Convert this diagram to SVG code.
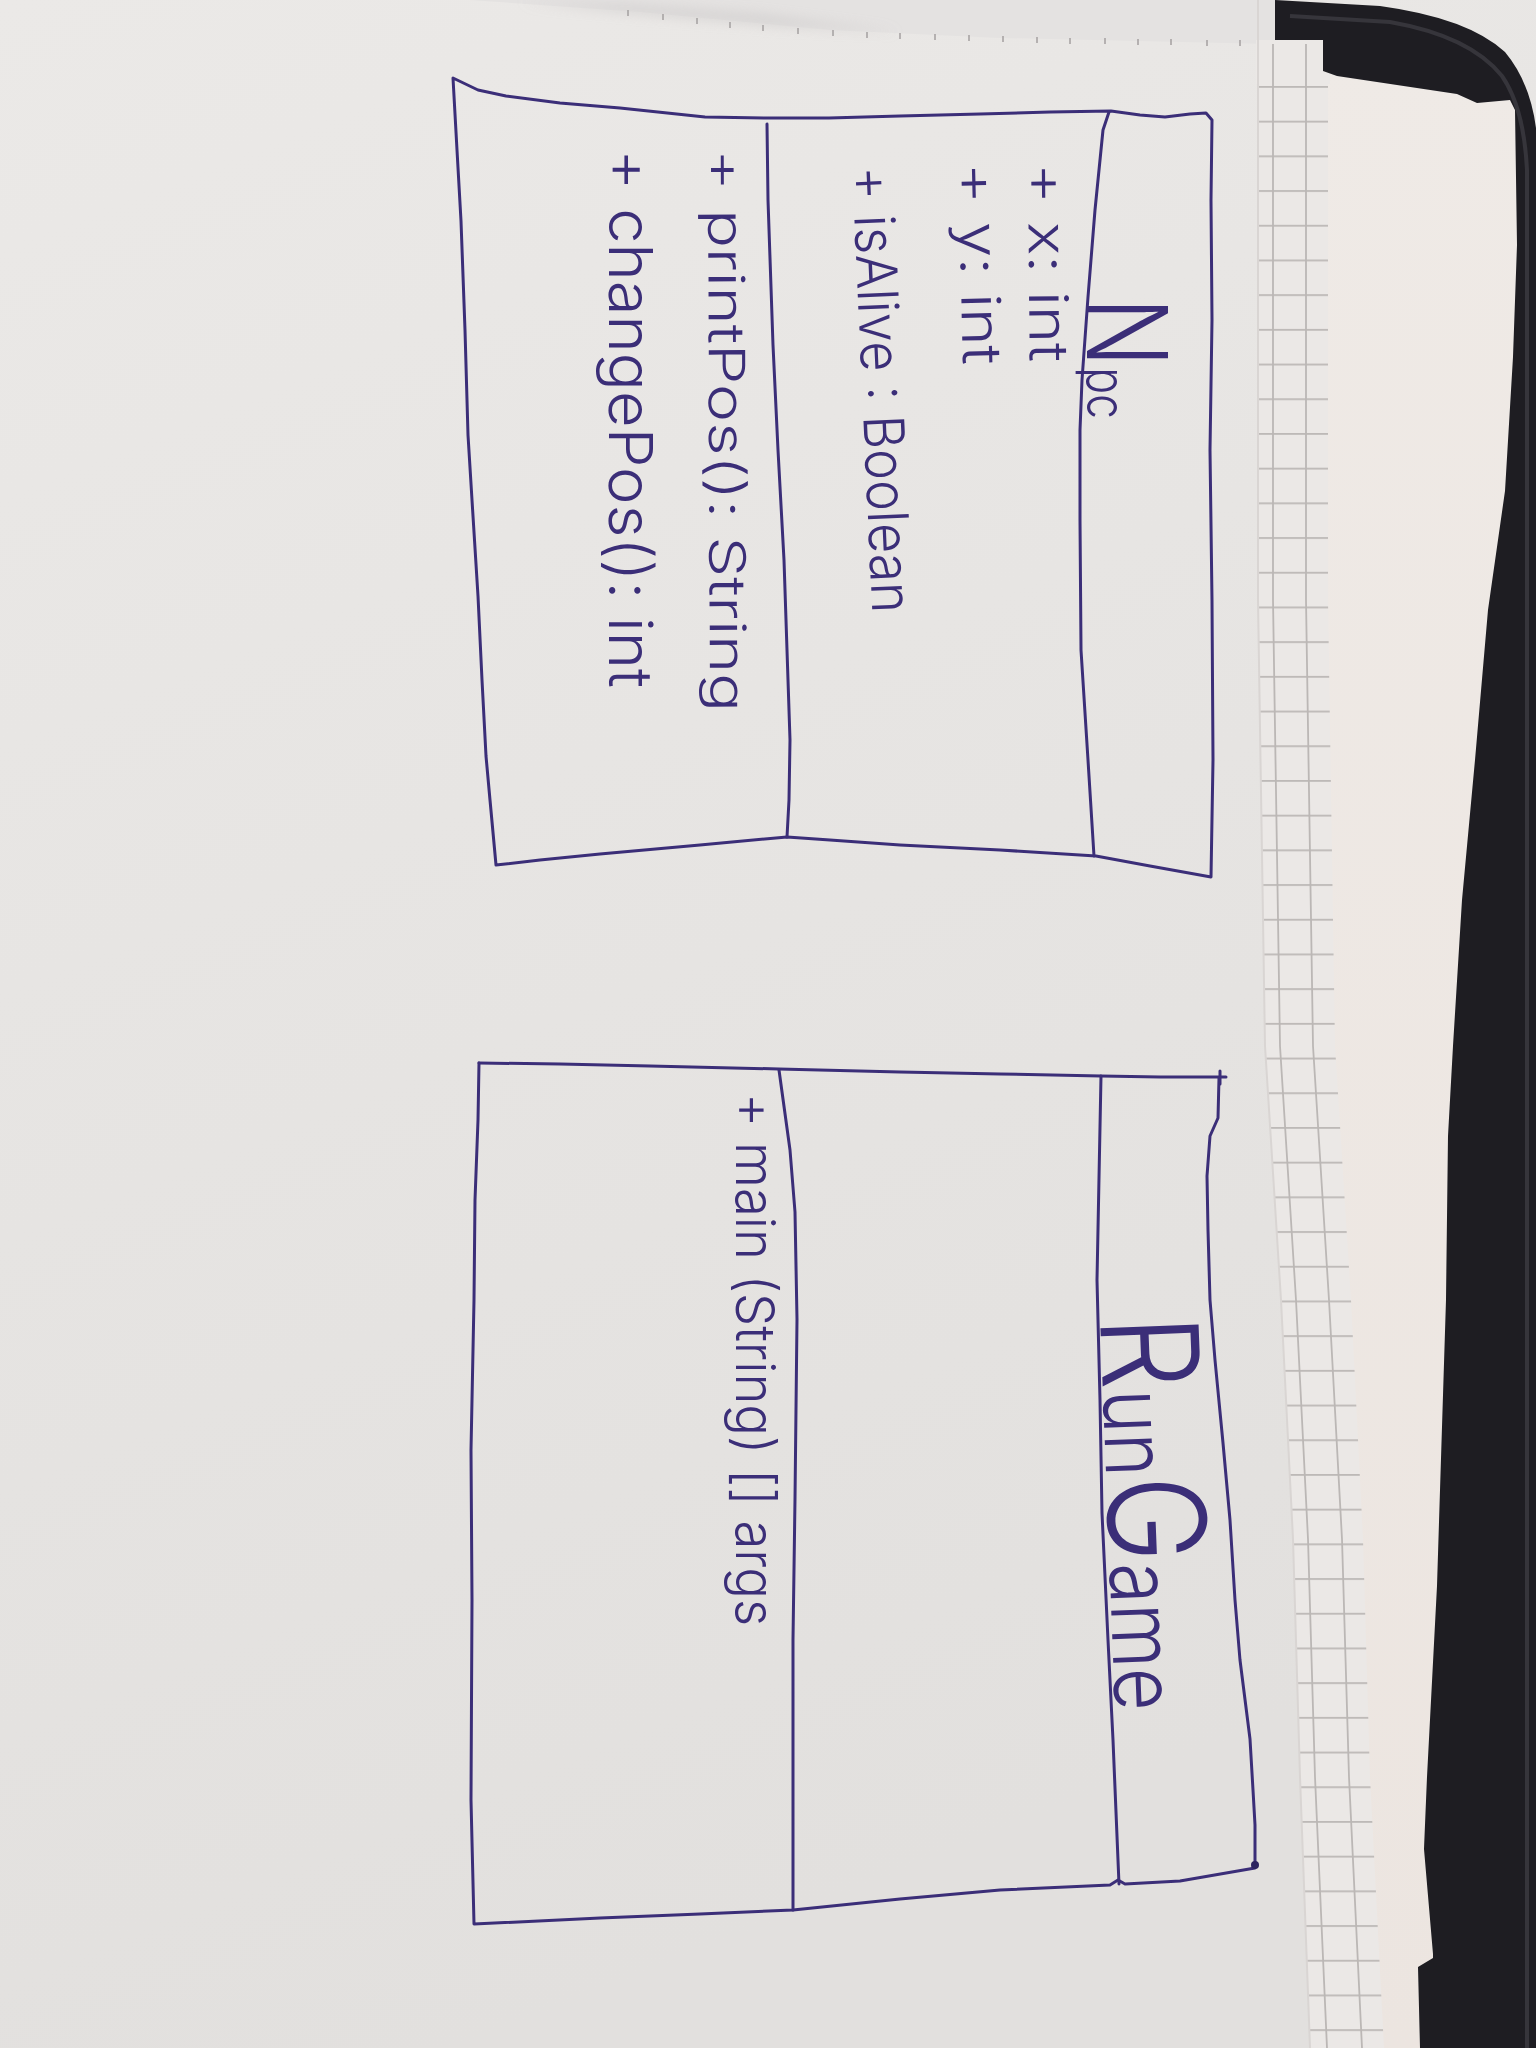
<svg xmlns="http://www.w3.org/2000/svg" width="1536" height="2048" viewBox="0 0 1536 2048">
  <defs>
    <style>
      .ink { fill: none; stroke: #3b2e78; stroke-width: 3; stroke-linejoin: round; stroke-linecap: round; }
      .hand { font-family: Inter, "Open Sans", Lato, "Liberation Sans", sans-serif; font-weight: 300; fill: #3b2e78; }
      .perf { stroke: #a8a4a4; stroke-width: 1.6; }
      .gridline { fill: none; stroke: #bbb7b5; stroke-width: 1.8; }
    </style>
    <linearGradient id="sheet" x1="0" y1="0" x2="0.3" y2="1">
      <stop offset="0" stop-color="#ebe9e7"/>
      <stop offset="1" stop-color="#e2e0de"/>
    </linearGradient>
    <linearGradient id="warmSheet" x1="0" y1="0" x2="0" y2="1">
      <stop offset="0" stop-color="#efeae6"/>
      <stop offset="1" stop-color="#ece5e0"/>
    </linearGradient>
    <pattern id="gridRows" patternUnits="userSpaceOnUse" x="0" y="86" width="40" height="34.7">
      <rect width="40" height="34.7" fill="#ebe8e6"/>
      <rect y="0" width="40" height="1.8" fill="#bdb9b7"/>
    </pattern>
    <filter id="soft" x="-10%" y="-50%" width="120%" height="200%">
      <feGaussianBlur stdDeviation="6"/>
    </filter>
  </defs>

  <!-- paper background -->
  <g id="paper">
    <rect width="1536" height="2048" fill="url(#sheet)"/>
    <!-- fold shadow of the sheet above the perforation -->
    <path d="M470,0 L640,12 L830,30 L1000,38 L1275,44 L1275,0 Z" fill="#e4e2e1"/>
    <path d="M520,2 L640,14 L780,26 L900,32 L760,14 L620,4 Z" fill="#cfcccc" opacity="0.7" filter="url(#soft)"/>
    <!-- perforation ticks -->
    <g class="perf">
      <line x1="628" y1="10" x2="628" y2="16"/>
      <line x1="663" y1="14" x2="663" y2="20"/>
      <line x1="697" y1="18" x2="697" y2="24"/>
      <line x1="730" y1="22" x2="730" y2="28"/>
      <line x1="763" y1="25" x2="763" y2="31"/>
      <line x1="798" y1="28" x2="798" y2="34"/>
      <line x1="833" y1="30" x2="833" y2="36"/>
      <line x1="867" y1="32" x2="867" y2="38"/>
      <line x1="900" y1="33" x2="900" y2="39"/>
      <line x1="935" y1="34" x2="935" y2="40"/>
      <line x1="969" y1="35" x2="969" y2="41"/>
      <line x1="1003" y1="36" x2="1003" y2="42"/>
      <line x1="1037" y1="37" x2="1037" y2="43"/>
      <line x1="1070" y1="38" x2="1070" y2="44"/>
      <line x1="1105" y1="38" x2="1105" y2="44"/>
      <line x1="1138" y1="39" x2="1138" y2="45"/>
      <line x1="1171" y1="39" x2="1171" y2="45"/>
      <line x1="1207" y1="40" x2="1207" y2="46"/>
      <line x1="1240" y1="40" x2="1240" y2="46"/>
    </g>

    <!-- plain sheet under the drawing sheet, up to the folder -->
    <path d="M1275,40 L1323,40 L1323,71 L1337,76 L1457,94 L1477,103 L1510,100 L1515,110 L1517,245 L1513,357 L1505,491 L1488,610 L1475,760 L1462,900 L1453,1046 L1448,1136 L1446,1300 L1437,1586 L1427,1777 L1424,1849 L1433,1954 L1433,1958 L1418,1967 L1420,2048 L1310,2048 L1300,1777 L1293,1539 L1281,1300 L1265,1046 L1258,600 L1258,40 Z" fill="url(#warmSheet)"/>
    <!-- squared strip -->
    <path d="M1258,44 L1258,600 L1265,1046 L1281,1300 L1293,1539 L1300,1777 L1310,2048 L1384,2048 L1370,1777 L1363,1539 L1351,1300 L1335,1046 L1328,600 L1328,44 Z" fill="url(#gridRows)"/>
    <rect x="1256" y="40" width="74" height="44" fill="#ebe8e6"/>
    <path class="gridline" d="M1273,44 L1273,600 L1280,1046 L1296,1300 L1308,1539 L1315,1777 L1327,2048"/>
    <path class="gridline" d="M1306,44 L1306,600 L1313,1046 L1329,1300 L1342,1539 L1349,1777 L1362,2048"/>
    <!-- edge of the drawing sheet -->
    <path d="M1258,0 L1258,600 L1265,1046 L1281,1300 L1293,1539 L1300,1777 L1310,2048" fill="none" stroke="#d9d5d3" stroke-width="2"/>

    <!-- black folder -->
    <path d="M1275,0 L1380,6 Q1468,18 1505,52 Q1530,82 1536,128 L1536,2048 L1420,2048 L1418,1967 L1433,1958 L1433,1954 L1424,1849 L1427,1777 L1437,1586 L1446,1300 L1448,1136 L1453,1046 L1462,900 L1475,760 L1488,610 L1505,491 L1513,357 L1517,245 L1515,110 L1510,100 L1477,103 L1457,94 L1337,76 L1323,71 L1323,40 L1275,40 Z" fill="#1e1d22"/>
    <path d="M1290,16 L1390,22 Q1470,36 1502,76 Q1524,108 1527,170 L1527,2048" fill="none" stroke="#36353b" stroke-width="4"/>
  </g>

  <!-- class Npc -->
  <g id="node-npc">
    <path class="ink" d="M453,78 L478,90 L506,96 L560,103 L620,108 L705,117 L770,118 L829,118 L900,116 L980,114 L1050,112 L1111,111 L1140,115 L1165,117 L1190,114 L1206,113 L1212,120 L1211,200 L1212,320 L1210,450 L1212,600 L1213,760 L1211,877 L1150,866 L1096,856 L1000,850 L900,845 L830,840 L787,837 L700,845 L600,854 L540,860 L496,865 L490,800 L486,756 L482,680 L478,596 L472,500 L468,435 L465,330 L461,221 L457,150 Z"/>
    <path class="ink" d="M1109,112 L1103,130 L1095,210 L1088,297 L1082,380 L1080,430 L1080,520 L1081,650 L1088,760 L1094,856"/>
    <path class="ink" d="M767,124 L768,200 L773,345 L778,450 L784,560 L788,680 L790,740 L789,800 L787,837"/>
    <text class="hand" transform="translate(1087,297) rotate(90)" textLength="122" lengthAdjust="spacingAndGlyphs"><tspan font-size="112">N</tspan><tspan font-size="54">pc</tspan></text>
    <text class="hand" font-size="54" transform="translate(1028,163) rotate(89.5)" textLength="199" lengthAdjust="spacingAndGlyphs">+ x: int</text>
    <text class="hand" font-size="54" transform="translate(958,163) rotate(88.6)" textLength="202" lengthAdjust="spacingAndGlyphs">+ y: int</text>
    <text class="hand" font-size="56" transform="translate(852,167) rotate(87.4)" textLength="447" lengthAdjust="spacingAndGlyphs">+ isAlive : Boolean</text>
    <text class="hand" font-size="50" transform="translate(708,149) rotate(89.8)" textLength="563" lengthAdjust="spacingAndGlyphs">+ printPos(): String</text>
    <text class="hand" font-size="60" transform="translate(609,149) rotate(90)" textLength="539" lengthAdjust="spacingAndGlyphs">+ changePos(): int</text>
  </g>

  <!-- class RunGame -->
  <g id="node-rungame">
    <path class="ink" d="M479,1063 L560,1064 L650,1066 L779,1069 L900,1072 L1000,1074 L1101,1076 L1160,1077 L1226,1077"/>
    <path class="ink" d="M1220,1071 L1220,1084"/>
    <path class="ink" d="M1219,1078 L1218,1118 L1210,1136 L1207,1176 L1208,1230 L1210,1300 L1215,1360 L1223,1443 L1230,1520 L1235,1600 L1240,1660 L1250,1739 L1253,1790 L1255,1825 L1255,1868 L1180,1881 L1125,1884 L1118,1880 L1110,1885 L1000,1890 L900,1899 L793,1910 L700,1914 L600,1918 L474,1924 L471,1800 L472,1600 L471,1450 L474,1300 L475,1200 L478,1120 L479,1063"/>
    <circle cx="1255" cy="1865" r="4" fill="#2c2360"/>
    <path class="ink" d="M1101,1076 L1097,1280 L1100,1400 L1102,1513 L1108,1640 L1113,1740 L1119,1884"/>
    <path class="ink" d="M779,1070 L790,1150 L795,1212 L797,1319 L795,1499 L793,1640 L793,1910"/>
    <text class="hand" transform="translate(1100,1317) rotate(87.8)" textLength="395" lengthAdjust="spacingAndGlyphs"><tspan font-size="135">R</tspan><tspan font-size="86">un</tspan><tspan font-size="135">G</tspan><tspan font-size="86">ame</tspan></text>
    <text class="hand" font-size="54" transform="translate(736,1093) rotate(90)" textLength="533" lengthAdjust="spacingAndGlyphs">+ main (String) [] args</text>
  </g>

  <!-- no connectors are drawn between the two classes -->
  <g id="connectors"/>
</svg>
